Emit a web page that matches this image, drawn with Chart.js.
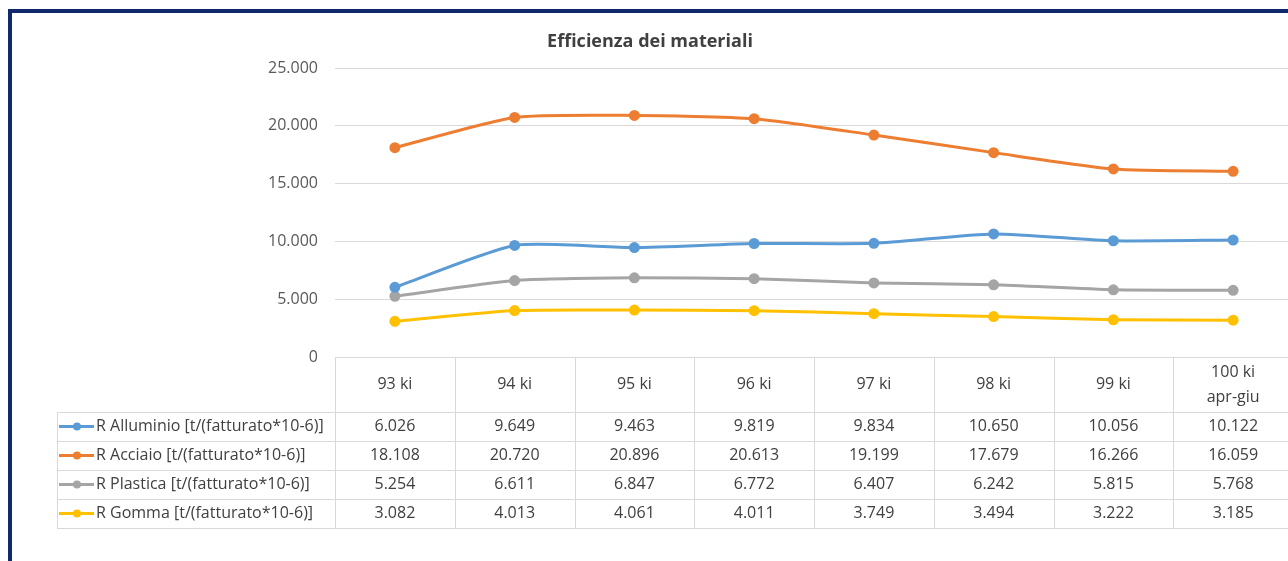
<!DOCTYPE html>
<html>
<head>
<meta charset="utf-8">
<script src="https://cdn.jsdelivr.net/npm/chart.js"></script>
<style>
html, body { margin: 0; padding: 0; background: #fff; overflow: hidden; width: 1288px; height: 561px; }
#wrap { position: absolute; left: 0; top: 0; width: 1300px; height: 561px; }
#frame { position: absolute; left: 8px; top: 9px; width: 1400px; height: 700px; border-top: 4px solid #10296a; border-left: 4px solid #10296a; pointer-events: none; }
</style>
</head>
<body>
<div id="wrap"><canvas id="lineChart" width="1300" height="561"></canvas></div>
<div id="frame"></div>
<script>
const categories = ['93 ki', '94 ki', '95 ki', '96 ki', '97 ki', '98 ki', '99 ki', ['100 ki', 'apr-giu']];
const alluminio = [6026, 9649, 9463, 9819, 9834, 10650, 10056, 10122];
const acciaio = [18108, 20720, 20896, 20613, 19199, 17679, 16266, 16059];
const plastica = [5254, 6611, 6847, 6772, 6407, 6242, 5815, 5768];
const gomma = [3082, 4013, 4061, 4011, 3749, 3494, 3222, 3185];
const seriesNames = [
    'R Alluminio [t/(fatturato*10-6)]',
    'R Acciaio [t/(fatturato*10-6)]',
    'R Plastica [t/(fatturato*10-6)]',
    'R Gomma [t/(fatturato*10-6)]'
];
const seriesColors = ['#5b9bd5', '#ed7d31', '#a5a5a5', '#ffc000'];

const FONT = '"Open Sans", Lato, sans-serif';

// 18108 -> "18.108"
function fmt(v) {
    return String(Math.round(v)).replace(/\B(?=(\d{3})+(?!\d))/g, '.');
}

// draws the Excel style data table under the plot
const dataTable = {
    id: 'dataTable',
    afterDraw(chart) {
        const ctx = chart.ctx;
        const xs = chart.scales.x;
        const area = chart.chartArea;
        const top = area.bottom;
        const headH = 55, rowH = 29;
        const left = 57;
        const half = (xs.getPixelForTick(1) - xs.getPixelForTick(0)) / 2;
        const n = categories.length;
        const bottom = top + headH + rowH * chart.data.datasets.length;
        const right = xs.getPixelForTick(n - 1) + half;

        ctx.save();
        ctx.strokeStyle = '#d9d9d9';
        ctx.lineWidth = 1;
        ctx.beginPath();
        for (let r = 0; r <= chart.data.datasets.length; r++) {
            const y = Math.round(top + headH + r * rowH) + 0.5;
            ctx.moveTo(left, y);
            ctx.lineTo(right, y);
        }
        for (let i = 0; i <= n; i++) {
            const x = Math.round(xs.getPixelForTick(0) - half + i * half * 2) + 0.5;
            ctx.moveTo(x, top);
            ctx.lineTo(x, bottom);
        }
        ctx.moveTo(left + 0.5, top + headH);
        ctx.lineTo(left + 0.5, bottom);
        ctx.stroke();

        ctx.fillStyle = '#404040';
        ctx.font = '16px ' + FONT;
        ctx.textAlign = 'center';
        ctx.textBaseline = 'middle';
        categories.forEach((c, i) => {
            const x = xs.getPixelForTick(i);
            const lines = Array.isArray(c) ? c : [c];
            const mid = top + headH / 2;
            lines.forEach((t, k) => {
                ctx.fillText(t, x, mid + (k - (lines.length - 1) / 2) * 25);
            });
        });

        chart.data.datasets.forEach((ds, r) => {
            const y = top + headH + r * rowH + rowH / 2;
            // legend key
            ctx.strokeStyle = ds.borderColor;
            ctx.lineWidth = 3;
            ctx.beginPath();
            ctx.moveTo(left + 2, y);
            ctx.lineTo(left + 37, y);
            ctx.stroke();
            ctx.fillStyle = ds.borderColor;
            ctx.beginPath();
            ctx.arc(left + 20, y, 4, 0, Math.PI * 2);
            ctx.fill();

            ctx.fillStyle = '#404040';
            ctx.textAlign = 'left';
            ctx.fillText(ds.label, left + 39, y);
            ctx.textAlign = 'center';
            ds.data.forEach((v, i) => {
                ctx.fillText(fmt(v), xs.getPixelForTick(i), y);
            });
        });
        ctx.restore();
    }
};

const seriesData = [alluminio, acciaio, plastica, gomma];

const ctx = document.getElementById('lineChart').getContext('2d');
new Chart(ctx, {
    type: 'line',
    data: {
        labels: categories,
        datasets: seriesData.map((d, i) => ({
            label: seriesNames[i],
            data: d,
            borderColor: seriesColors[i],
            backgroundColor: seriesColors[i],
            pointBackgroundColor: seriesColors[i],
            pointBorderColor: seriesColors[i],
            borderWidth: 3,
            pointRadius: 4,
            tension: 0.2,
            fill: false
        }))
    },
    options: {
        responsive: false,
        animation: false,
        devicePixelRatio: 1,
        layout: { padding: { left: 0, right: 0, top: 0, bottom: 204 } },
        plugins: {
            legend: { display: false },
            tooltip: { enabled: false },
            title: {
                display: true,
                text: 'Efficienza dei materiali',
                color: '#404040',
                font: { family: FONT, size: 18, weight: 'bold' },
                padding: { top: 31, bottom: 15.4 }
            }
        },
        scales: {
            x: {
                display: false,
                offset: true
            },
            y: {
                min: 0,
                max: 25000,
                afterFit(scale) { scale.width = 335; },
                border: { display: false },
                grid: { color: '#d9d9d9', drawTicks: false },
                ticks: {
                    stepSize: 5000,
                    padding: 17,
                    color: '#595959',
                    font: { family: FONT, size: 16 },
                    callback: v => fmt(v)
                }
            }
        }
    },
    plugins: [dataTable]
});
</script>
</body>
</html>
